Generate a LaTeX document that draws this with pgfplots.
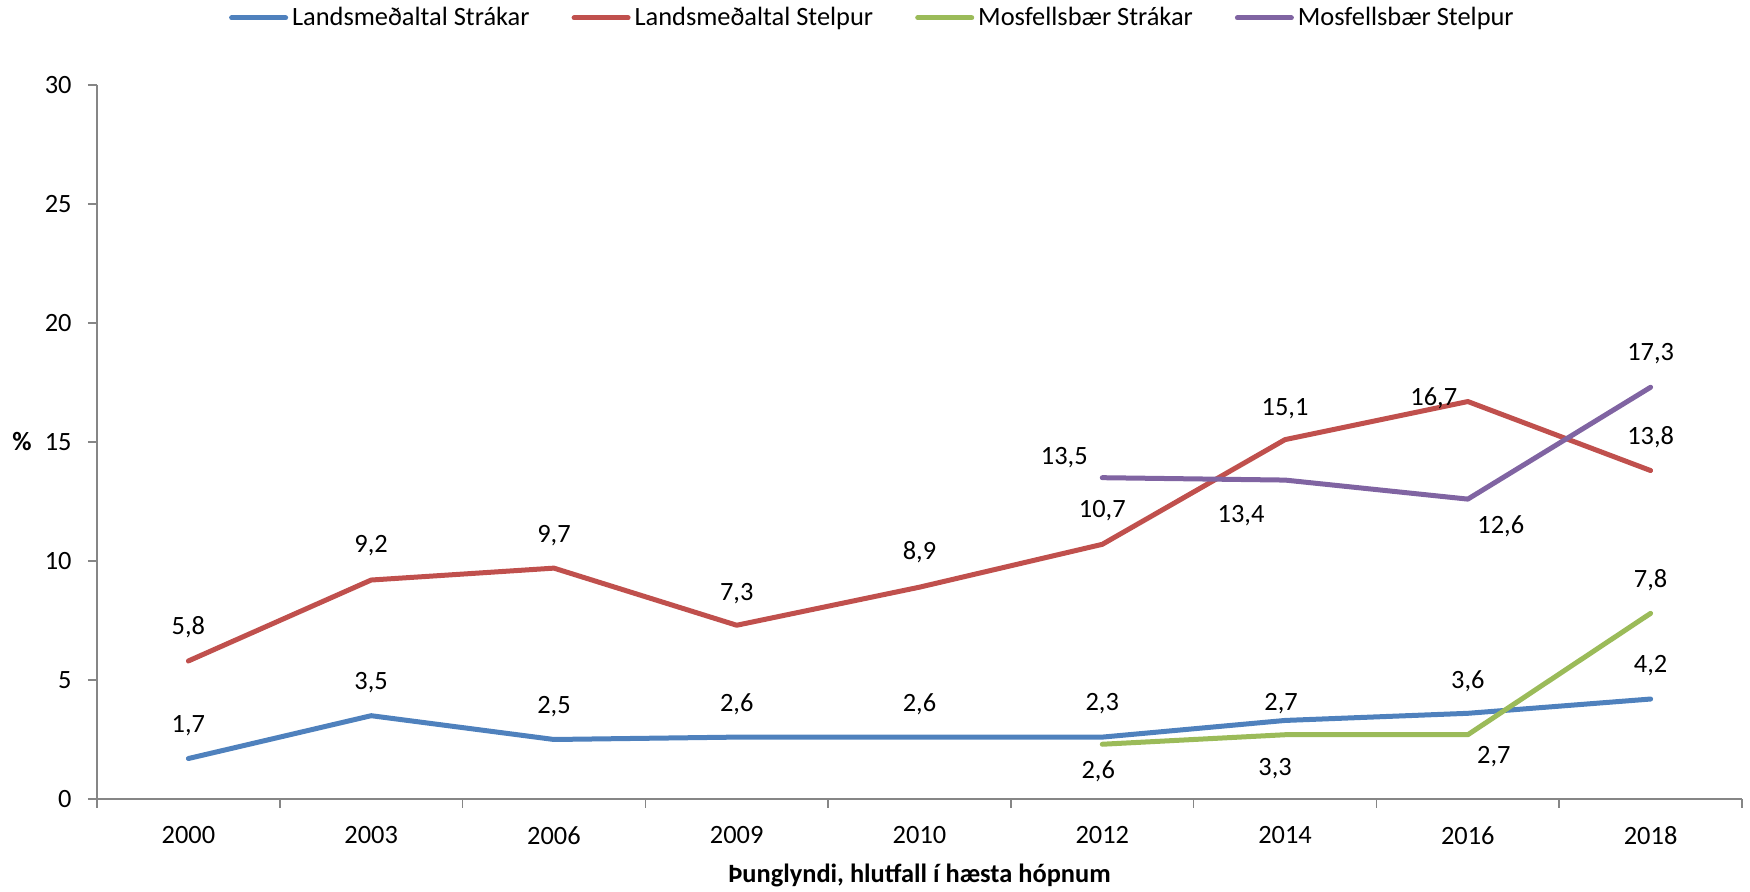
\documentclass[border=0pt]{standalone}
\usepackage{pgfplots}
\pgfplotsset{compat=1.18}
\usepackage{pgfplotstable}
\usepackage{fontspec}
\setmainfont{Carlito}

\definecolor{lsblue}{HTML}{4F81BD}
\definecolor{lsred}{HTML}{C0504D}
\definecolor{mosgreen}{HTML}{9BBB59}
\definecolor{mospurple}{HTML}{8064A2}
\definecolor{axisgray}{HTML}{868686}

% x = category index (2000,2003,2006,2009,2010,2012,2014,2016,2018)
% lab = label text as shown, dx/dy = label offset in pt
\pgfplotstableread{
x y    lab  dx  dy
0 1.7  1,7  0   16.5
1 3.5  3,5  0   16.5
2 2.5  2,5  0   16.5
3 2.6  2,6  0   16.5
4 2.6  2,6  0   16.5
5 2.6  2,3  0   16.5
6 3.3  2,7  -2  8.4
7 3.6  3,6  0   16
8 4.2  4,2  0   16.5
}\lsstrakar

\pgfplotstableread{
x y    lab   dx  dy
0 5.8  5,8   0   17
1 9.2  9,2   0   17
2 9.7  9,7   0   16.5
3 7.3  7,3   0   16
4 8.9  8,9   0   17.5
5 10.7 10,7  0   17
6 15.1 15,1  0   15.5
7 16.7 16,7  -17 1.5
8 13.8 13,8  0   16.5
}\lsstelpur

\pgfplotstableread{
x y    lab  dx  dy
5 2.3  2,6  -2  -13.4
6 2.7  3,3  -5  -17
7 2.7  2,7  13  -11
8 7.8  7,8  0   16.5
}\mosstrakar

\pgfplotstableread{
x y    lab   dx    dy
5 13.5 13,5  -19   10
6 13.4 13,4  -22   -18
7 12.6 12,6  16.5  -13.5
8 17.3 17,3  0     17
}\mosstelpur

\pgfplotsset{
  lbl/.style={
    nodes near coords,
    point meta=explicit symbolic,
    visualization depends on={\thisrow{dx}\as\dx},
    visualization depends on={\thisrow{dy}\as\dy},
    every node near coord/.append style={anchor=center, xshift=\dx pt, yshift=\dy pt, text=black},
  },
  serie/.style={line width=2.5pt, line cap=round, line join=round, #1},
}

\begin{document}
\fontsize{13.2}{16}\selectfont
\begin{tikzpicture}
\path[use as bounding box] (-48.5pt,-46.5pt) rectangle (826.5pt,399.5pt);
\begin{axis}[
  at={(0,0)}, anchor=south west,
  scale only axis,
  width=822.5pt, height=357pt,
  xmin=-0.5, xmax=8.5,
  ymin=0, ymax=30,
  axis lines*=left,
  axis line style={-, draw=axisgray, line width=0.75pt},
  xtick={-0.5,0.5,...,8.5},
  x tick label as interval,
  xticklabels={2000,2003,2006,2009,2010,2012,2014,2016,2018},
  ytick={0,5,...,30},
  tick align=outside,
  major tick length=4.5pt,
  tick style={draw=axisgray, line width=0.75pt},
  /pgf/number format/assume math mode=true,
  yticklabel style={xshift=-3.6pt},
  xticklabel style={yshift=-4.7pt},
  xlabel={\textbf{Þunglyndi, hlutfall í hæsta hópnum}},
  xlabel style={at={(axis description cs:0.5,0)}, anchor=center, yshift=-38pt},
  ylabel={\textbf{\%}},
  ylabel style={rotate=-90, at={(axis description cs:0,0.5)}, anchor=center, xshift=-37.5pt},
  legend columns=4,
  legend style={at={(0.472,1.094)}, anchor=center, draw=none, fill=none,
    /tikz/every even column/.append style={column sep=19pt}},
  legend image code/.code={\draw[#1] (0pt,0pt) -- (27pt,0pt);},
]
\addplot[serie=lsblue, lbl] table[x=x, y=y, meta=lab] {\lsstrakar};
\addlegendentry{Landsmeðaltal Strákar}
\addplot[serie=lsred, lbl] table[x=x, y=y, meta=lab] {\lsstelpur};
\addlegendentry{Landsmeðaltal Stelpur}
\addplot[serie=mosgreen, lbl] table[x=x, y=y, meta=lab] {\mosstrakar};
\addlegendentry{Mosfellsbær Strákar}
\addplot[serie=mospurple, lbl] table[x=x, y=y, meta=lab] {\mosstelpur};
\addlegendentry{Mosfellsbær Stelpur}
\end{axis}
\end{tikzpicture}
\end{document}
